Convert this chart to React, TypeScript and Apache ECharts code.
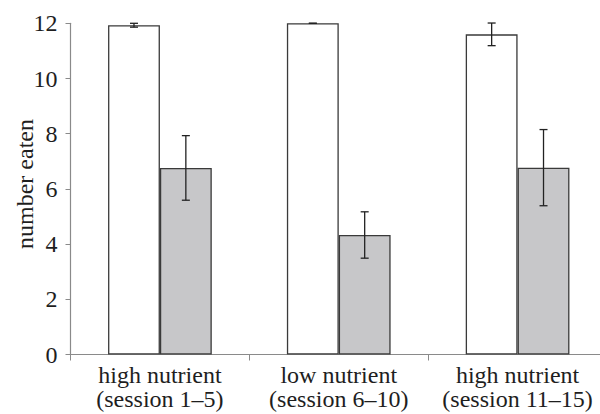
import React, { useEffect, useRef } from "react";
import * as echarts from "echarts";

const categories = ["high nutrient\n(session 1–5)", "low nutrient\n(session 6–10)", "high nutrient\n(session 11–15)"];
const whiteValues = [11.93, 12.0, 11.6];
const whiteErrors = [0.07, 0.0, 0.41];
const greyValues = [6.76, 4.33, 6.77];
const greyErrors = [1.17, 0.84, 1.38];
const yTicks = { min: 0, max: 12, interval: 2 };
const yAxisTitle = "number eaten";

const FONT = "Liberation Serif";
const BAR_FRACTION = 0.29;

export default function App() {
  const ref = useRef<HTMLDivElement>(null);
  useEffect(() => {
    if (!ref.current) return;
    const chart = echarts.init(ref.current, null, { renderer: "svg" });
    const errData: number[][] = [];
    whiteValues.forEach((v, i) => errData.push([i, v, whiteErrors[i], -1]));
    greyValues.forEach((v, i) => errData.push([i, v, greyErrors[i], 1]));
    chart.setOption({
      animation: false,
      grid: { left: 70.5, right: -7, top: 23.3, bottom: 59.5, containLabel: false, outerBoundsMode: "none" },
      graphic: [
        {
          type: "text",
          x: 25,
          y: 184,
          rotation: Math.PI / 2,
          style: {
            text: yAxisTitle,
            fontFamily: FONT,
            fontSize: 24,
            fill: "#1e1e1e",
            align: "center",
            verticalAlign: "middle",
          },
        },
      ],
      xAxis: {
        type: "category",
        data: categories,
        axisLine: { show: true, lineStyle: { color: "#8a8a8a", width: 1.2 } },
        axisTick: { show: true, length: 6, lineStyle: { color: "#8a8a8a" } },
        axisLabel: { interval: 0, fontFamily: FONT, fontSize: 24, color: "#1e1e1e", lineHeight: 24, margin: 8 },
      },
      yAxis: {
        type: "value",
        min: yTicks.min,
        max: yTicks.max,
        interval: yTicks.interval,
        axisLine: { show: true, lineStyle: { color: "#8a8a8a", width: 1.2 } },
        axisTick: { show: true, length: 5, lineStyle: { color: "#8a8a8a" } },
        axisLabel: { fontFamily: FONT, fontSize: 24, color: "#1e1e1e", margin: 13 },
        splitLine: { show: false },
      },
      series: [
        {
          type: "bar",
          data: whiteValues,
          barWidth: BAR_FRACTION * 100 + "%",
          barGap: "0%",
          itemStyle: { color: "#ffffff", borderColor: "#3a3a3a", borderWidth: 1.3 },
        },
        {
          type: "bar",
          data: greyValues,
          barWidth: BAR_FRACTION * 100 + "%",
          barGap: "0%",
          itemStyle: { color: "#c7c7c9", borderColor: "#3a3a3a", borderWidth: 1.3 },
        },
        {
          type: "custom",
          data: errData,
          z: 10,
          renderItem: (params: any, api: any) => {
            const xi = api.value(0);
            const v = api.value(1);
            const e = api.value(2);
            const side = api.value(3);
            const catW = api.size([1, 0])[0];
            const xc = api.coord([xi, v])[0] + (side * catW * BAR_FRACTION) / 2;
            const yTop = api.coord([xi, v + e])[1];
            const yBot = api.coord([xi, v - e])[1];
            const cap = 4;
            const style = { stroke: "#222", lineWidth: 1.3 };
            return {
              type: "group",
              children: [
                { type: "line", shape: { x1: xc, y1: yTop, x2: xc, y2: yBot }, style },
                { type: "line", shape: { x1: xc - cap, y1: yTop, x2: xc + cap, y2: yTop }, style },
                { type: "line", shape: { x1: xc - cap, y1: yBot, x2: xc + cap, y2: yBot }, style },
              ],
            };
          },
        },
      ],
    });
    return () => chart.dispose();
  }, []);
  return <div ref={ref} style={{ position: "absolute", left: 0, top: 0, width: 600, height: 414, background: "#fff" }} />;
}
